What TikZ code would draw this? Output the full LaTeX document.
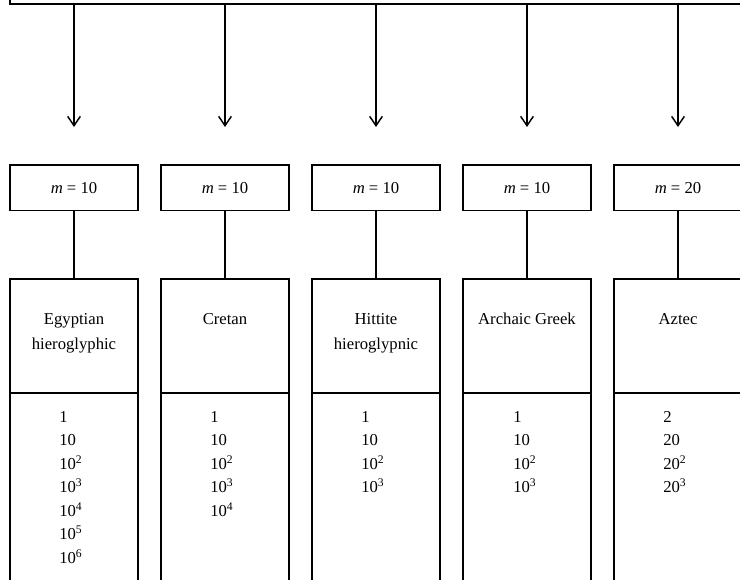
\documentclass[tikz,border=0pt]{standalone}
\usepackage{fontspec}
\setmainfont{Liberation Serif}
\usepackage{tikz}
\usetikzlibrary{arrows, arrows.meta}
\tikzset{topbox/.style = {draw, line width = 1.1pt, outer sep = 0pt, minimum width = 600pt, minimum height = 45pt, anchor = south west}}
\tikzset{mbox/.style = {draw, line width = 1.1pt, outer sep = 0pt, minimum width = 96pt, minimum height = 34pt, anchor = north, font = \fontsize{12.5}{15}\selectfont}}
\tikzset{namebox/.style = {draw, line width = 1.1pt, outer sep = 0pt, minimum width = 96pt, minimum height = 85.5pt, anchor = north}}
\tikzset{valbox/.style = {draw, line width = 1.1pt, outer sep = 0pt, minimum width = 96pt, minimum height = 190pt, anchor = north}}
\tikzset{nametext/.style = {anchor = north, inner sep = 0pt, align = center, font = \fontsize{12.5}{18.6}\selectfont}}
\tikzset{valtext/.style = {anchor = north west, inner sep = 0pt, align = left, font = \fontsize{12.5}{17.6}\selectfont}}
\tikzset{edge/.style = {-, line width = 1.1pt}}
\tikzset{arrow/.style = {-{Straight Barb[length = 7pt, width = 9.5pt]}, line width = 1.1pt}}

\begin{document}
\begin{tikzpicture}[x = 0.75pt, y = -0.75pt]
	\useasboundingbox (0, 0) rectangle (740, 580);
	\clip (0, 0) rectangle (740, 580);

	\node[topbox] (top) at (10, 4) {};

	\coordinate (a1) at (74, 127);
	\coordinate (a2) at (225, 127);
	\coordinate (a3) at (376, 127);
	\coordinate (a4) at (527, 127);
	\coordinate (a5) at (678, 127);

	\node[mbox] (m1) at (74, 165) {\textit{m} = 10};
	\node[mbox] (m2) at (225, 165) {\textit{m} = 10};
	\node[mbox] (m3) at (376, 165) {\textit{m} = 10};
	\node[mbox] (m4) at (527, 165) {\textit{m} = 10};
	\node[mbox] (m5) at (678, 165) {\textit{m} = 20};

	\node[namebox] (n1) at (74, 279) {};
	\node[namebox] (n2) at (225, 279) {};
	\node[namebox] (n3) at (376, 279) {};
	\node[namebox] (n4) at (527, 279) {};
	\node[namebox] (n5) at (678, 279) {};

	\node[valbox] (v1) at (n1.south) {};
	\node[valbox] (v2) at (n2.south) {};
	\node[valbox] (v3) at (n3.south) {};
	\node[valbox] (v4) at (n4.south) {};
	\node[valbox] (v5) at (n5.south) {};

	\node[nametext] (t1) at (74, 313) {Egyptian\\hieroglyphic};
	\node[nametext] (t2) at (225, 313) {Cretan};
	\node[nametext] (t3) at (376, 313) {Hittite\\hieroglypnic};
	\node[nametext] (t4) at (527, 313) {Archaic Greek};
	\node[nametext] (t5) at (678, 313) {Aztec};

	\node[valtext] (l1) at (59, 411) {1\\10\\10\textsuperscript{2}\\10\textsuperscript{3}\\10\textsuperscript{4}\\10\textsuperscript{5}\\10\textsuperscript{6}};
	\node[valtext] (l2) at (210, 411) {1\\10\\10\textsuperscript{2}\\10\textsuperscript{3}\\10\textsuperscript{4}};
	\node[valtext] (l3) at (361, 411) {1\\10\\10\textsuperscript{2}\\10\textsuperscript{3}};
	\node[valtext] (l4) at (513, 411) {1\\10\\10\textsuperscript{2}\\10\textsuperscript{3}};
	\node[valtext] (l5) at (663, 411) {2\\20\\20\textsuperscript{2}\\20\textsuperscript{3}};

	\draw[arrow] (a1 |- top.south) to (a1);
	\draw[arrow] (a2 |- top.south) to (a2);
	\draw[arrow] (a3 |- top.south) to (a3);
	\draw[arrow] (a4 |- top.south) to (a4);
	\draw[arrow] (a5 |- top.south) to (a5);

	\draw[edge] (m1) to (n1);
	\draw[edge] (m2) to (n2);
	\draw[edge] (m3) to (n3);
	\draw[edge] (m4) to (n4);
	\draw[edge] (m5) to (n5);
\end{tikzpicture}
\end{document}
